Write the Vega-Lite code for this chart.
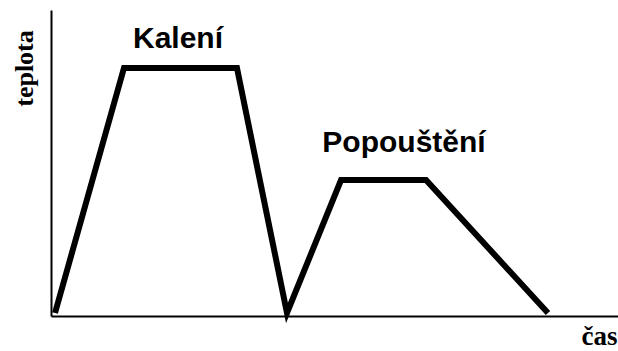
{
  "$schema": "https://vega.github.io/schema/vega-lite/v6.json",
  "autosize": "none",
  "width": 567,
  "height": 306,
  "padding": {"left": 51, "top": 10, "right": 0, "bottom": 35},
  "background": "white",
  "config": {"view": {"stroke": null}},
  "datasets": {
    "curve": [
      {"t": 0.71, "v": 0.98},
      {"t": 12.87, "v": 81.05},
      {"t": 32.8, "v": 81.05},
      {"t": 41.62, "v": 0.98},
      {"t": 51.15, "v": 44.44},
      {"t": 66.14, "v": 44.44},
      {"t": 87.65, "v": 0.98}
    ],
    "labels": [
      {"t": 22.4, "v": 87.6, "label": "Kalení"},
      {"t": 62.26, "v": 53.6, "label": "Popouštění"}
    ]
  },
  "layer": [
    {
      "data": {"name": "curve"},
      "mark": {"type": "line", "color": "black", "strokeWidth": 6, "strokeJoin": "miter", "strokeCap": "butt"},
      "encoding": {
        "x": {"field": "t", "type": "quantitative", "scale": {"domain": [0, 100], "nice": false, "zero": false},
          "axis": {"title": "čas", "labels": false, "ticks": false, "grid": false, "domainColor": "black", "domainWidth": 2,
            "titleFont": "Liberation Serif", "titleFontWeight": "bold", "titleFontSize": 27, "titleColor": "black",
            "titleAlign": "right", "titleBaseline": "alphabetic", "titleX": 566, "titleY": 28}},
        "y": {"field": "v", "type": "quantitative", "scale": {"domain": [0, 100], "nice": false, "zero": false},
          "axis": {"title": "teplota", "labels": false, "ticks": false, "grid": false, "domainColor": "black", "domainWidth": 2,
            "titleFont": "Liberation Serif", "titleFontWeight": "bold", "titleFontSize": 26, "titleColor": "black",
            "titleAngle": 270, "titleAlign": "center", "titleBaseline": "middle", "titleX": -27, "titleY": 58}}
      }
    },
    {
      "data": {"name": "labels"},
      "mark": {"type": "text", "font": "Liberation Sans", "fontWeight": "bold", "fontSize": 30, "color": "black", "align": "center", "baseline": "alphabetic"},
      "encoding": {
        "x": {"field": "t", "type": "quantitative"},
        "y": {"field": "v", "type": "quantitative"},
        "text": {"field": "label"}
      }
    }
  ]
}
